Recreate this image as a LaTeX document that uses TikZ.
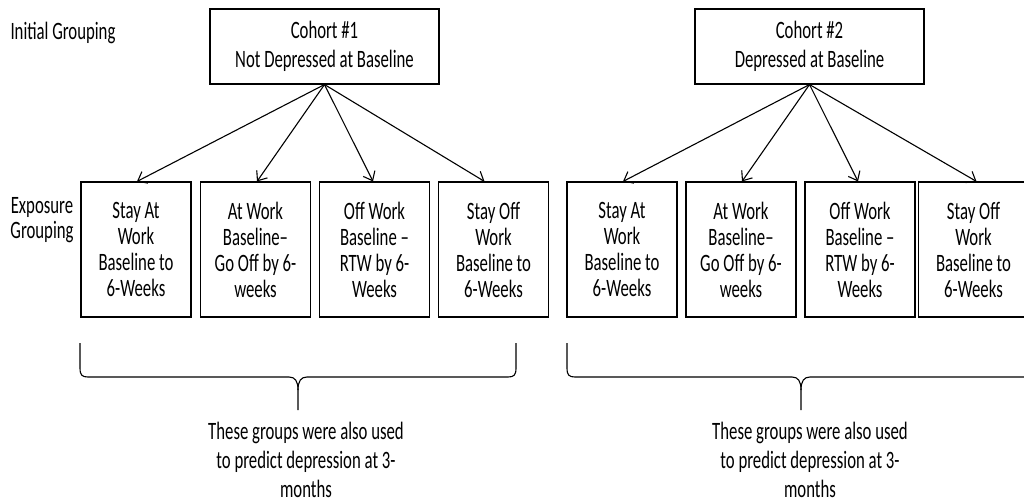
\documentclass[tikz,border=0pt]{standalone}
\usepackage{fontspec}
\setmainfont{Carlito}[FakeStretch=0.67]
\usetikzlibrary{arrows.meta}
\begin{document}
\begin{tikzpicture}[x=1pt,y=-1pt,
  box/.style={draw,line width=1.1pt,inner sep=0pt,align=center},
  cohort/.style={box,minimum width=229pt,minimum height=75pt,font=\fontsize{25}{29}\selectfont},
  expo/.style={box,minimum width=110pt,minimum height=135pt,font=\fontsize{25}{26}\selectfont},
  lbl/.style={inner sep=0pt,align=center,font=\fontsize{25}{25}\selectfont},
  note/.style={inner sep=0pt,align=center,font=\fontsize{25}{29}\selectfont},
  arr/.style={line width=1.1pt,-{Straight Barb[length=8pt,width=13pt,line width=1.1pt]}},
  brace/.style={line width=1.1pt}]
\useasboundingbox (0,0) rectangle (1024,503);
\node[lbl] (ig) at (63,33) {Initial Grouping};
\node[lbl] (eg) at (42,220) {Exposure\\Grouping};
\node[cohort] (c1) at (324.5,46.5) {Cohort \#1\\Not Depressed at Baseline};
\node[cohort] (c2) at (809.5,46.5) {Cohort \#2\\Depressed at Baseline};
\foreach \n/\x in {1/136,5/622}{
  \node[expo] (e\n) at (\x,249.5) {Stay At\\Work\\Baseline to\\6-Weeks};}
\foreach \n/\x in {2/255.5,6/741}{
  \node[expo] (e\n) at (\x,249.5) {At Work\\Baseline–\\Go Off by 6-\\weeks};}
\foreach \n/\x in {3/374.5,7/860}{
  \node[expo] (e\n) at (\x,249.5) {Off Work\\Baseline –\\RTW by 6-\\Weeks};}
\node[expo] (e4) at (493.5,249.5) {Stay Off\\Work\\Baseline to\\6-Weeks};
\node[expo] (e8) at (973.5,249.5) {Stay Off\\Work\\Baseline to\\6-Weeks};
\draw[arr] (c1.south) -- ([xshift=1pt]e1.north);
\draw[arr] (c1.south) -- ([xshift=1.5pt]e2.north);
\draw[arr] (c1.south) -- ([xshift=-1.5pt]e3.north);
\draw[arr] (c1.south) -- ([xshift=-9pt]e4.north);
\draw[arr] (c2.south) -- ([xshift=1pt]e5.north);
\draw[arr] (c2.south) -- ([xshift=1pt]e6.north);
\draw[arr] (c2.south) -- ([xshift=-2pt]e7.north);
\draw[arr] (c2.south) -- ([xshift=3pt]e8.north);
% braces
\draw[brace] (80,343) -- (80,368) .. controls (80,375) and (82,377) .. (88,377) -- (289,377)
  .. controls (295,377) and (298,381) .. (298,390) -- (298,410);
\draw[brace] (516,343) -- (516,368) .. controls (516,375) and (514,377) .. (508,377) -- (307,377)
  .. controls (301,377) and (298,381) .. (298,390);
\draw[brace] (567,343) -- (567,368) .. controls (567,375) and (569,377) .. (575,377) -- (792,377)
  .. controls (798,377) and (801,381) .. (801,390) -- (801,410);
\draw[brace] (1035,343) -- (1035,368) .. controls (1035,375) and (1033,377) .. (1027,377) -- (810,377)
  .. controls (804,377) and (801,381) .. (801,390);
\node[note] (n1) at (306,460) {These groups were also used\\to predict depression at 3-\\months};
\node[note] (n2) at (810,460) {These groups were also used\\to predict depression at 3-\\months};
\end{tikzpicture}
\end{document}
